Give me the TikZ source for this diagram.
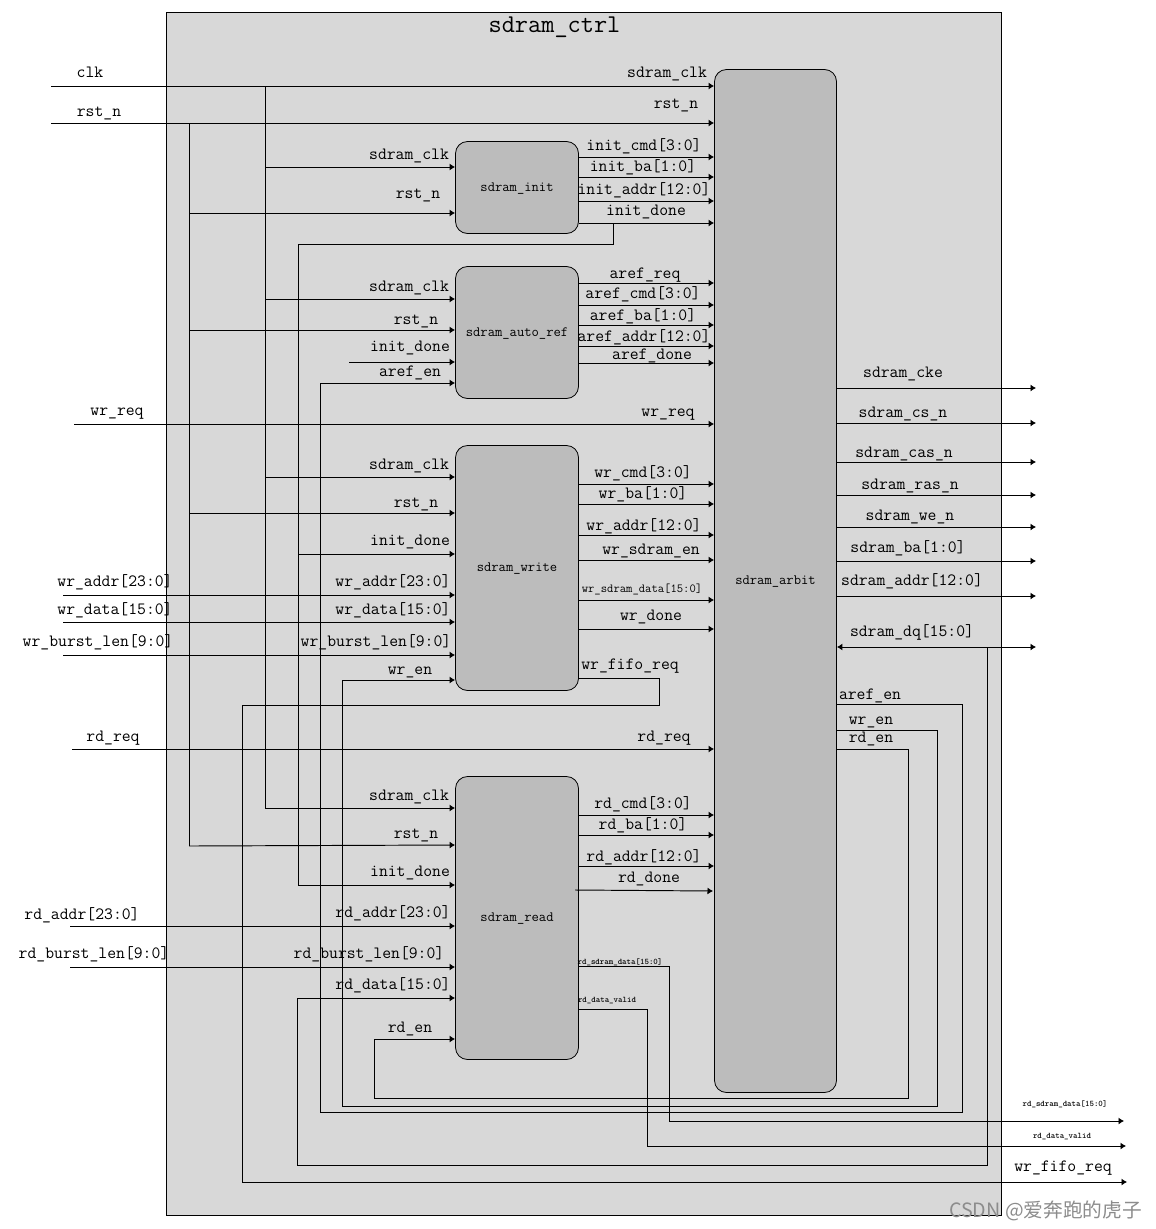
\documentclass[tikz,border=0pt]{standalone}
\usepackage{fontspec}
\usetikzlibrary{arrows.meta}
\newfontfamily\cjkwm{Noto Sans CJK SC}
\catcode`\_=12
\newcounter{lbc}
\newcommand\lb[4][lbl]{\stepcounter{lbc}\node[#1] (lb\arabic{lbc}) at ({#2+1},{#3-1}) {#4};}
\newcommand\lbA[3]{\lb[lbl]{#1}{#2}{#3}}
\newcommand\lbT[3]{\lb[tiny lbl]{#1}{#2}{#3}}
\newcommand\wireIn[3]{\draw[wire] (#1,#2) -- (#3.west |- 0,#2);}
\newcommand\wireOut[2]{\draw[wire] (#1.east |- 0,#2) -- (arbit.west |- 0,#2);}
\newcommand\wireExt[2]{\draw[wire] (arbit.east |- 0,#1) -- (#2,#1);}
\tikzset{
  lbl/.style={anchor=base,inner sep=0pt,font=\ttfamily\fontsize{17.2}{17.2}\selectfont},
  tiny lbl/.style={anchor=base,inner sep=0pt,font=\ttfamily\bfseries\fontsize{8.5}{8.5}\selectfont},
  block/.style={draw=black,fill=blockfill,rounded corners=12pt,line width=0.8pt,minimum width=123pt,inner sep=0pt},
  blockname/.style={inner sep=0pt,font=\ttfamily\fontsize{14.2}{14.2}\selectfont},
  wire/.style={draw=black,line width=0.95pt,-{Latex[length=5.5pt,width=7pt]}},
  plain/.style={draw=black,line width=0.95pt},
}
\definecolor{framefill}{HTML}{D8D8D8}
\definecolor{blockfill}{HTML}{BCBCBC}
\begin{document}
\begin{tikzpicture}[x=1pt,y=-1pt]
\useasboundingbox (0,0) rectangle (1156,1229);
% frame
\node[draw=black,fill=framefill,line width=0.9pt,minimum width=835pt,minimum height=1203pt,inner sep=0pt] (frame) at (583.5,613.5) {};
\node[anchor=base,inner sep=0pt,font=\ttfamily\fontsize{25.6}{25.6}\selectfont] (title) at (554.5,32) {sdram_ctrl};
% blocks
\node[block,minimum height=92pt] (init) at (517,187.5) {};
\node[block,minimum height=132pt] (auto) at (517,332.5) {};
\node[block,minimum height=245pt] (write) at (517,568) {};
\node[block,minimum height=283pt] (read) at (517,918) {};
\node[block,minimum width=122pt,minimum height=1023pt] (arbit) at (775.5,581) {};
\node[blockname] (initname) at (517,189) {sdram_init};
\node[blockname] (autoname) at (517,334) {sdram_auto_ref};
\node[blockname] (writename) at (517,569) {sdram_write};
\node[blockname] (readname) at (517,919) {sdram_read};
\node[blockname] (arbitname) at (775.5,582) {sdram_arbit};
% free ends
\coordinate (clkin) at (51,86);
\coordinate (rstin) at (51,123);
\coordinate (clkbus) at (265,86);
\coordinate (rstbus) at (189,123);
% clk / rst
\draw[wire] (clkin) -- (arbit.west |- clkin);
\draw[wire] (rstin) -- (arbit.west |- rstin);
\draw[plain] (clkbus) -- (265,808);
\draw[plain] (rstbus) -- (189,846);
\wireIn{265}{167}{init}
\wireIn{265}{299}{auto}
\wireIn{265}{477}{write}
\wireIn{265}{808}{read}
\wireIn{189}{213}{init}
\wireIn{189}{330}{auto}
\wireIn{189}{513}{write}
\draw[wire] (189,846) -- (read.west |- 0,845);
% init_done
\draw[wire] (613,223) |- (298,244) |- (read.west |- 0,885);
\draw[wire] (298,554) -- (write.west |- 0,554);
\wireIn{349}{362}{auto}
% enables
\draw[wire] (arbit.east |- 0,704) -| (962,1112) -| (320,383) -- (auto.west |- 0,383);
\draw[wire] (arbit.east |- 0,730) -| (937,1106) -| (342,680) -- (write.west |- 0,680);
\draw[wire] (arbit.east |- 0,749) -| (908,1098) -| (374,1039) -- (read.west |- 0,1039);
% req
\draw[wire] (74,424) -- (arbit.west |- 0,424);
\draw[wire] (72,749) -- (arbit.west |- 0,749);
% write inputs
\wireIn{63}{595}{write}
\wireIn{63}{622}{write}
\wireIn{63}{655}{write}
% read inputs
\wireIn{70}{926}{read}
\wireIn{70}{967}{read}
% fifo req
\draw[wire] (write.east |- 0,678) -| (659,705) -| (242,1182) -- (1127,1182);
% dq
\draw[{Latex[length=5.5pt,width=7pt]}-{Latex[length=5.5pt,width=7pt]},plain] (arbit.east |- 0,647) -- (1036,647);
\draw[wire] (987,647) |- (297,1165) |- (read.west |- 0,998);
% outputs to arbiter
\foreach \yy in {157,177,201,223} {\wireOut{init}{\yy}}
\foreach \yy in {283,305,325,346,363} {\wireOut{auto}{\yy}}
\foreach \yy in {484,504,535,560,600,629} {\wireOut{write}{\yy}}
\foreach \yy in {815,835,866} {\wireOut{read}{\yy}}
\draw[wire] (575,890) -- (713,891);
% external outputs
\foreach \yy in {388,423,462,495,527,561,596} {\wireExt{\yy}{1036}}
\draw[wire] (read.east |- 0,966) -| (669,1121) -- (1124,1121);
\draw[wire] (read.east |- 0,1009) -| (647,1146) -- (1126,1146);
% labels left outer
\lbA{89}{78}{clk}\lbA{98}{117}{rst_n}\lbA{116}{416}{wr_req}
\lbA{114}{587}{wr_addr[23:0]}\lbA{114}{615}{wr_data[15:0]}\lbA{97}{647}{wr_burst_len[9:0]}
\lbA{112}{742}{rd_req}\lbA{81}{920}{rd_addr[23:0]}\lbA{93}{959}{rd_burst_len[9:0]}
% arbit top
\lbA{666}{78}{sdram_clk}\lbA{675}{109}{rst_n}
\lbA{667}{417}{wr_req}\lbA{663}{742}{rd_req}
% init
\lbA{408}{160}{sdram_clk}\lbA{417}{199}{rst_n}
\lbA{643}{151}{init_cmd[3:0]}\lbA{642}{172}{init_ba[1:0]}\lbA{643}{195}{init_addr[12:0]}\lbA{645}{216}{init_done}
% auto
\lbA{408}{292}{sdram_clk}\lbA{415}{325}{rst_n}\lbA{409}{352}{init_done}\lbA{409}{377}{aref_en}
\lbA{644}{279}{aref_req}\lbA{642}{299}{aref_cmd[3:0]}\lbA{642}{321}{aref_ba[1:0]}\lbA{643}{342}{aref_addr[12:0]}\lbA{651}{360}{aref_done}
% write
\lbA{408}{470}{sdram_clk}\lbA{415}{508}{rst_n}\lbA{409}{546}{init_done}
\lbA{392}{587}{wr_addr[23:0]}\lbA{392}{615}{wr_data[15:0]}\lbA{375}{647}{wr_burst_len[9:0]}\lbA{409}{675}{wr_en}
\lbA{642}{478}{wr_cmd[3:0]}\lbA{642}{499}{wr_ba[1:0]}\lbA{643}{531}{wr_addr[12:0]}\lbA{650}{555}{wr_sdram_en}
\node[anchor=base,inner sep=0pt,font=\ttfamily\fontsize{12.3}{12.3}\selectfont] (wsd) at (642,592) {wr_sdram_data[15:0]};
\lbA{650}{621}{wr_done}\lbA{629}{670}{wr_fifo_req}
% read
\lbA{408}{801}{sdram_clk}\lbA{415}{839}{rst_n}\lbA{409}{877}{init_done}
\lbA{392}{918}{rd_addr[23:0]}\lbA{368}{959}{rd_burst_len[9:0]}\lbA{392}{990}{rd_data[15:0]}\lbA{409}{1033}{rd_en}
\lbA{642}{809}{rd_cmd[3:0]}\lbA{642}{830}{rd_ba[1:0]}\lbA{643}{862}{rd_addr[12:0]}\lbA{648}{883}{rd_done}
\lbT{619}{965}{rd_sdram_data[15:0]}\lbT{606}{1003}{rd_data_valid}
% right
\lbA{902}{378}{sdram_cke}\lbA{902}{418}{sdram_cs_n}\lbA{903}{458}{sdram_cas_n}\lbA{909}{490}{sdram_ras_n}
\lbA{909}{521}{sdram_we_n}\lbA{907}{553}{sdram_ba[1:0]}\lbA{911}{586}{sdram_addr[12:0]}\lbA{911}{637}{sdram_dq[15:0]}
\lbA{869}{700}{aref_en}\lbA{870}{725}{wr_en}\lbA{870}{743}{rd_en}
\lbT{1064}{1107}{rd_sdram_data[15:0]}\lbT{1061}{1139}{rd_data_valid}\lbA{1062}{1172}{wr_fifo_req}
% watermark
\node[anchor=base,inner sep=0pt,text=black!45,font=\cjkwm\fontsize{19.7}{19.7}\selectfont] (wm) at (1045.5,1217) {CSDN @爱奔跑的虎子};
\end{tikzpicture}
\end{document}
